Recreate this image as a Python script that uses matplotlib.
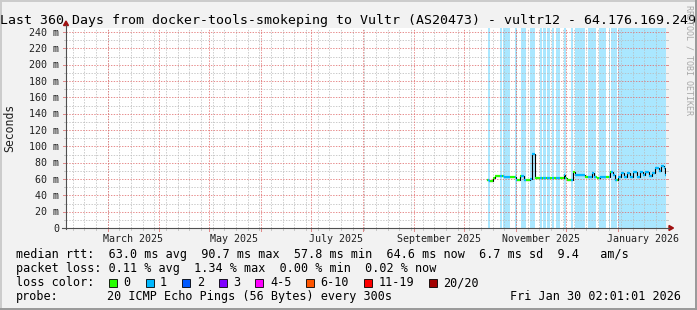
import numpy as np
import matplotlib
matplotlib.use('Agg')
import matplotlib.pyplot as plt
import matplotlib.dates as mdates
from matplotlib.patches import Polygon, Rectangle
from matplotlib.lines import Line2D

plt.rcParams['lines.scale_dashes'] = False

# ---------------- data ----------------
title = "Last 360 Days from docker-tools-smokeping to Vultr (AS20473) - vultr12 - 64.176.169.249"
end_time = np.datetime64('2026-01-30T02:01:01')
span_days = 360
base = np.datetime64('2025-10-01T00:00:00')

# median rtt as steps: breakpoints (days after base) and values (ms)
med_t = [13.6, 14.6, 17.2, 18.6, 23.6, 27.6, 31.2, 33.6, 35.6, 39.6,
         40.8, 42.3, 45.6, 55.2, 57.6, 59.7, 60.6, 61.5, 65.4, 66.6,
         72.6, 76.6, 78.0, 79.6, 81.6, 87.6, 89.2, 90.6, 92.0, 94.0,
         95.6, 97.6, 99.6, 101.2, 103.6, 105.6, 107.2, 108.6, 110.6, 112.6,
         114.6, 116.6, 118.0, 119.6, 120.6, 121.08]
med_v = [59.1, 57.9, 61.2, 63.2, 62.8, 62.0, 59.1, 63.2, 59.1, 59.8,
         90.7, 61.0, 60.8, 61.8, 61.2, 65.0, 61.5, 58.5, 69.0, 64.4,
         62.0, 67.3, 63.0, 60.8, 62.2, 68.3, 65.3, 58.3, 62.4, 67.3,
         62.4, 67.3, 62.0, 68.5, 62.0, 68.5, 65.3, 68.0, 63.5, 67.3,
         73.4, 69.3, 76.3, 73.4, 64.6]

# periods with 1/20 packet loss (days after base)
loss_start = [14.4, 21.6, 23.2, 30.4, 34.0, 39.6, 45.6, 47.2, 49.6, 52.8,
              55.2, 59.6, 64.0, 66.6, 74.0, 80.8, 86.6, 88.0, 92.2]
loss_end = [15.6, 22.4, 27.6, 31.6, 36.8, 42.6, 46.4, 49.0, 51.6, 54.0,
            57.6, 61.2, 65.4, 72.6, 79.2, 84.8, 87.2, 91.6, 121.08]

month_labels = ["March 2025", "May 2025", "July 2025", "September 2025",
                "November 2025", "January 2026"]
month_label_dates = ['2025-03-16', '2025-05-16', '2025-07-16', '2025-09-16',
                     '2025-11-16', '2026-01-16']

y_top = 244.9
y_major = list(range(20, 241, 20))
y_minor = list(range(10, 241, 20))

rtt_stats = [("63.0 ms", "avg"), ("90.7 ms", "max"), ("57.8 ms", "min"),
             ("64.6 ms", "now"), ("6.7 ms", "sd")]
rtt_amps = "9.4"
loss_stats = [("0.11 %", "avg"), ("1.34 %", "max"), ("0.00 %", "min"), ("0.02 %", "now")]
loss_labels = ["0", "1", "2", "3", "4-5", "6-10", "11-19", "20/20"]
loss_colors = ['#26ff00', '#00b8ff', '#0059ff', '#7e00ff', '#ff00ff',
               '#ff5500', '#ff0000', '#a10000']
probe_text = "20 ICMP Echo Pings (56 Bytes) every 300s"
stamp_text = "Fri Jan 30 02:01:01 2026"

# ---------------- style ----------------
W, H, DPI = 697, 310, 100
BG = '#f2f2f2'
LOSS_BG = '#aae7ff'
GRID_C = '#bababa'
MGRID_C = '#e06a6a'
MONO = 'DejaVu Sans Mono'

fig = plt.figure(figsize=(W / DPI, H / DPI), dpi=DPI, facecolor=BG)


def fx(x):
    return x / W


def fy(y):
    return 1 - y / H


X0, X1, Y0, Y1 = 66, 666, 228, 28
ax = fig.add_axes([fx(X0), fy(Y0), (X1 - X0) / W, (Y0 - Y1) / H])
ax.set_facecolor('white')
for s in ax.spines.values():
    s.set_visible(False)
ax.set_xticks([])
ax.set_yticks([])

end_num = mdates.date2num(end_time)
start_num = end_num - span_days
base_num = mdates.date2num(base)
ax.set_xlim(start_num, end_num)
ax.set_ylim(0, y_top)

# loss background
for s, e in zip(loss_start, loss_end):
    ax.axvspan(base_num + s, base_num + e, facecolor=LOSS_BG, edgecolor='none', lw=0, zorder=1)

dash = (0, (1.0, 1.0))
gkw = dict(lw=0.72, ls=dash, dash_capstyle='butt', snap=True, alpha=0.75)
# vertical grid
weeks = np.arange(np.datetime64('2025-02-08'), end_time, np.timedelta64(7, 'D'))
months = np.arange(np.datetime64('2025-03'), np.datetime64('2026-02'), np.timedelta64(1, 'M'))
for w in weeks:
    ax.axvline(mdates.date2num(w), color=GRID_C, zorder=2, **gkw)
for m in months:
    ax.axvline(mdates.date2num(m.astype('datetime64[D]')), color=MGRID_C, zorder=2.1, **gkw)
# horizontal grid
for v in y_minor:
    ax.axhline(v, color=GRID_C, zorder=2, **gkw)
for v in y_major:
    ax.axhline(v, color=MGRID_C, zorder=2.1, **gkw)

# tick stubs outside plot (rrdtool style)
xpx = lambda num: X0 + (num - start_num) / span_days * (X1 - X0)
ypx = lambda v: Y0 - v / y_top * (Y0 - Y1)
stubs = []
for w in weeks:
    px = xpx(mdates.date2num(w))
    stubs.append(((px, px), (Y0, Y0 + 2), '#c8c8c8'))
for m in months:
    px = xpx(mdates.date2num(m.astype('datetime64[D]')))
    stubs.append(((px, px), (Y0, Y0 + 3), '#e08a8a'))
for v in y_minor:
    py = ypx(v)
    stubs.append(((X0 - 2, X0), (py, py), '#c8c8c8'))
    stubs.append(((X1, X1 + 2), (py, py), '#c8c8c8'))
for v in y_major:
    py = ypx(v)
    stubs.append(((X0 - 3, X0), (py, py), '#e08a8a'))
    stubs.append(((X1, X1 + 2), (py, py), '#e08a8a'))
for xs, ys, c in stubs:
    fig.add_artist(Line2D([fx(x) for x in xs], [fy(y) for y in ys], color=c, lw=0.72,
                          snap=True, transform=fig.transFigure))

# median line: black steps underneath, loss-coloured horizontals on top
sx, sy = [], []
for i, v in enumerate(med_v):
    sx += [base_num + med_t[i], base_num + med_t[i + 1]]
    sy += [v, v]
ax.plot(sx, sy, color='black', lw=0.8, zorder=5, solid_joinstyle='miter')


def in_loss(t):
    return any(s <= t < e for s, e in zip(loss_start, loss_end))


for i, v in enumerate(med_v):
    a, b = med_t[i], med_t[i + 1]
    cuts = sorted(set([a, b] + [c for c in loss_start + loss_end if a < c < b]))
    for p, q in zip(cuts[:-1], cuts[1:]):
        col = loss_colors[1] if in_loss((p + q) / 2) else loss_colors[0]
        ax.plot([base_num + p, base_num + q], [v, v], color=col, lw=1.6,
                solid_capstyle='butt', zorder=6)

# axes lines and arrows
AX_C = '#505050'
AR_C = '#a01010'
fig.add_artist(Line2D([fx(X0), fx(X0)], [fy(Y0 + 1), fy(25)], color=AX_C, lw=0.8,
                      transform=fig.transFigure))
fig.add_artist(Line2D([fx(62), fx(669)], [fy(Y0), fy(Y0)], color=AX_C, lw=0.8,
                      transform=fig.transFigure))
fig.add_artist(Polygon([(fx(63.5), fy(25.5)), (fx(68.5), fy(25.5)), (fx(66), fy(21))],
                       closed=True, color=AR_C, transform=fig.transFigure))
fig.add_artist(Polygon([(fx(669), fy(225.5)), (fx(669), fy(230.5)), (fx(673.5), fy(228))],
                       closed=True, color=AR_C, transform=fig.transFigure))

# y tick labels
for v in [0] + y_major:
    lab = "0" if v == 0 else f"{v} m"
    fig.text(fx(59), fy(ypx(v) + 3.6), lab, ha='right', va='baseline',
             fontsize=7.2, family=MONO, color='#202020')

# month labels
for lab, d in zip(month_labels, month_label_dates):
    px = xpx(mdates.date2num(np.datetime64(d)))
    fig.text(fx(px), fy(241.5), lab, ha='center', va='baseline', fontsize=7.2,
             family=MONO, color='#202020')

# title, y-label, watermark
fig.text(fx(348), fy(23.7), title, ha='center', va='baseline', fontsize=9.5,
         family=MONO, color='black')
fig.text(fx(10), fy(128), "Seconds", rotation=90, ha='center', va='center',
         fontsize=8.3, family=MONO, color='#202020')
fig.text(fx(689), fy(5), "RRDTOOL / TOBI OETIKER", rotation=270, ha='center', va='top',
         fontsize=6.0, family=MONO, color='#a8a8a8')

# legend text
LF = 8.5
row1 = "median rtt:  " + "  ".join(f"{a} {b}" for a, b in rtt_stats) + f"  {rtt_amps}   am/s"
row2 = "packet loss: " + "  ".join(f"{a} {b}" for a, b in loss_stats)
fig.text(fx(16), fy(258), row1, ha='left', va='baseline', fontsize=LF, family=MONO, color='black')
fig.text(fx(16), fy(272), row2, ha='left', va='baseline', fontsize=LF, family=MONO, color='black')
fig.text(fx(16), fy(286.3), "loss color:", ha='left', va='baseline', fontsize=LF, family=MONO,
         color='black')
bx = 109.0
for lab, c in zip(loss_labels, loss_colors):
    fig.add_artist(Rectangle((fx(bx), fy(286.5)), 8 / W, 8 / H, transform=fig.transFigure,
                             facecolor=c, edgecolor='black', lw=0.6))
    fig.text(fx(bx + 14.5), fy(286.3), lab, ha='left', va='baseline', fontsize=LF,
             family=MONO, color='black')
    bx += 29.5 + 7.1 * len(lab)
fig.text(fx(16), fy(300.3), "probe:", ha='left', va='baseline', fontsize=LF, family=MONO,
         color='black')
fig.text(fx(107.3), fy(300.3), probe_text, ha='left', va='baseline', fontsize=LF, family=MONO,
         color='black')
fig.text(fx(681), fy(300.3), stamp_text, ha='right', va='baseline', fontsize=LF, family=MONO,
         color='black')

# frame shading
fig.add_artist(Line2D([0, 1], [fy(0.5), fy(0.5)], color='#cbcbcb', lw=1.4, transform=fig.transFigure))
fig.add_artist(Line2D([fx(0.5), fx(0.5)], [0, 1], color='#cbcbcb', lw=1.4, transform=fig.transFigure))
fig.add_artist(Line2D([0, 1], [fy(H - 1), fy(H - 1)], color='#999999', lw=1.4, transform=fig.transFigure))
fig.add_artist(Line2D([fx(W - 1), fx(W - 1)], [0, 1], color='#999999', lw=1.4, transform=fig.transFigure))

fig.savefig('out.png', dpi=DPI, facecolor=BG)
